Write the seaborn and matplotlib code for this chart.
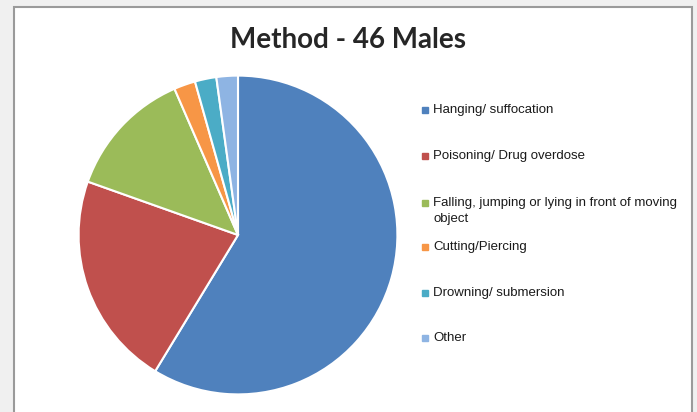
import matplotlib.pyplot as plt
import seaborn as sns
from matplotlib.patches import Rectangle
from matplotlib.lines import Line2D

# data (46 males in total)
methods = ['Hanging/ suffocation', 'Poisoning/ Drug overdose',
           'Falling, jumping or lying in front of moving\nobject',
           'Cutting/Piercing', 'Drowning/ submersion', 'Other']
counts = [27, 10, 6, 1, 1, 1]
colors = ['#4F81BD', '#C0504D', '#9BBB59', '#F79646', '#4BACC6', '#8EB4E3']

# legend row positions (pixels from top) as in the reference
legend_rows = [110, 156, 203, 247, 293, 338]

sns.set_style('white')
plt.rcParams['font.family'] = ['Liberation Sans', 'DejaVu Sans']

W, H = 697, 412
fig = plt.figure(figsize=(W / 100, H / 100), dpi=100)
fig.patch.set_facecolor('#f0f0f0')

# white chart area with grey frame (open at the bottom)
fig.add_artist(Rectangle((14 / W, -0.05), (692 - 14) / W, 1.05 - 7 / H, transform=fig.transFigure,
                         facecolor='white', edgecolor='#9a9a9a', linewidth=1.5, zorder=0))

# pie axes: centre (238, 235) px, radius 161 px
cx, cy, r = 238, 235, 161
ax = fig.add_axes([(cx - r) / W, (H - cy - r) / H, 2 * r / W, 2 * r / H])
ax.pie(counts, colors=colors, startangle=90, counterclock=False,
       wedgeprops=dict(edgecolor='white', linewidth=1.5))
ax.set_xlim(-1.01, 1.01)
ax.set_ylim(-1.01, 1.01)
ax.set_aspect('equal')
ax.axis('off')

fig.text(348 / W, 1 - 40 / H, 'Method - 46 Males', ha='center', va='center',
         fontsize=20, fontweight='bold', family=['Lato', 'DejaVu Sans'])

# legend
for label, col, y in zip(methods, colors, legend_rows):
    fig.add_artist(Line2D([425 / W], [1 - y / H], transform=fig.transFigure, marker='s',
                          markersize=4.2, color=col, linestyle='none'))
    if '\n' in label:
        fig.text(433 / W, 1 - (y - 6) / H, label, ha='left', va='top',
                 fontsize=9.5, linespacing=1.4, color='#1a1a1a')
    else:
        fig.text(433 / W, 1 - y / H, label, ha='left', va='center',
                 fontsize=9.5, color='#1a1a1a')

fig.savefig('out.png', dpi=100, facecolor=fig.get_facecolor())
